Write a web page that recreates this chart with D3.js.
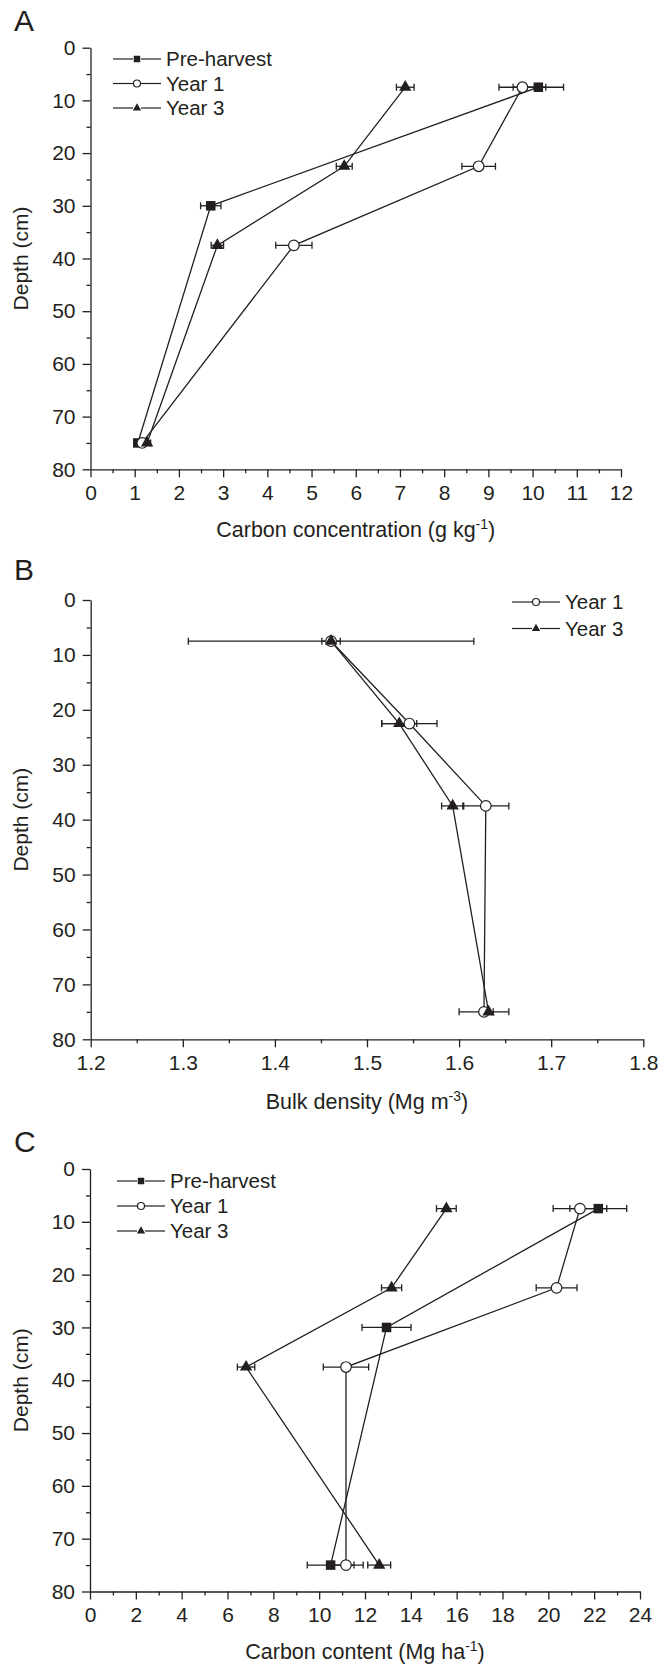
<!DOCTYPE html>
<html>
<head>
<meta charset="utf-8">
<script src="https://cdn.jsdelivr.net/npm/d3@7"></script>
<style>
body { margin: 0; background: #fff; }
svg { display: block; font-family: "Liberation Sans", Arial, sans-serif; }
</style>
</head>
<body>
<div id="chart-area"></div>
<script>
// sampling depths (cm)
const preDepth = [7.5, 30, 75];
const yearDepth = [7.5, 22.5, 37.5, 75];
const depthTicks = [0, 10, 20, 30, 40, 50, 60, 70, 80];

// A - carbon concentration (g kg-1)
const concPre = [10.13, 2.72, 1.07];
const concPreErr = [0.57, 0.23, 0.08];
const concY1 = [9.77, 8.78, 4.6, 1.17];
const concY1Err = [0.53, 0.38, 0.41, 0.08];
const concY3 = [7.12, 5.74, 2.87, 1.28];
const concY3Err = [0.2, 0.18, 0.14, 0.08];
const concTicks = [0, 1, 2, 3, 4, 5, 6, 7, 8, 9, 10, 11, 12];

// B - bulk density (Mg m-3)
const bdY1 = [1.461, 1.546, 1.629, 1.627];
const bdY1Err = [0.155, 0.03, 0.025, 0.027];
const bdY3 = [1.461, 1.535, 1.593, 1.632];
const bdY3Err = [0.01, 0.019, 0.012, 0.005];
const bdTicks = [1.2, 1.3, 1.4, 1.5, 1.6, 1.7, 1.8];

// C - carbon content (Mg ha-1)
const contPre = [22.18, 12.94, 10.5];
const contPreErr = [1.24, 1.07, 1.02];
const contY1 = [21.38, 20.36, 11.17, 11.17];
const contY1Err = [1.17, 0.89, 0.99, 0.75];
const contY3 = [15.55, 13.16, 6.81, 12.62];
const contY3Err = [0.43, 0.44, 0.38, 0.5];
const contTicks = [0, 2, 4, 6, 8, 10, 12, 14, 16, 18, 20, 22, 24];

const ink = "#231f20";

const svg = d3.select("#chart-area")
    .append("svg")
    .attr("width", 660)
    .attr("height", 1669);

function series(name, depth, vals, errs, shape) {
    return { name, shape, pts: depth.map((d, i) => ({ depth: d, v: vals[i], e: errs[i] })) };
}

const symTri = d3.symbol().type(d3.symbolTriangle).size(66);
const symTriSmall = d3.symbol().type(d3.symbolTriangle).size(30);

function marker(g, shape, big) {
    if (shape === "square") {
        const s = big ? 9.5 : 6.5;
        g.append("rect").attr("x", -s / 2).attr("y", -s / 2).attr("width", s).attr("height", s).attr("fill", ink);
    } else if (shape === "circle") {
        g.append("circle").attr("r", big ? 5.3 : 3.5).attr("fill", "#fff").attr("stroke", ink).attr("stroke-width", 1.2);
    } else {
        g.append("path").attr("d", big ? symTri() : symTriSmall()).attr("fill", ink);
    }
}

function drawPanel(p) {
    const x = d3.scaleLinear().domain(p.domain).range([p.x0, p.x1]);
    const y = d3.scaleLinear().domain([0, 80]).range([p.yTop, p.yBot]);
    const g = svg.append("g");

    // axes (major + minor ticks)
    g.append("g")
        .attr("transform", `translate(${p.x0},0)`)
        .call(d3.axisLeft(y).tickValues(depthTicks).tickSize(8).tickSizeOuter(0).tickPadding(7));
    g.append("g")
        .attr("transform", `translate(${p.x0},0)`)
        .call(d3.axisLeft(y).tickValues(d3.range(5, 80, 10)).tickSize(4).tickSizeOuter(0).tickFormat(""))
        .select(".domain").remove();
    g.append("g")
        .attr("transform", `translate(0,${p.yBot})`)
        .call(d3.axisBottom(x).tickValues(p.ticks).tickSize(8).tickSizeOuter(0).tickPadding(8)
            .tickFormat(p.fmt));
    g.append("g")
        .attr("transform", `translate(0,${p.yBot})`)
        .call(d3.axisBottom(x).tickValues(p.minor).tickSize(4).tickSizeOuter(0).tickFormat(""))
        .select(".domain").remove();

    g.selectAll(".domain, .tick line").attr("stroke", ink).attr("stroke-width", 1.3);
    g.selectAll(".tick text").attr("font-size", 21).attr("fill", ink)
        .attr("font-family", "Liberation Sans, Arial, sans-serif");

    // panel letter
    g.append("text").attr("x", 14).attr("y", p.letterY)
        .attr("font-size", 30).attr("fill", ink).text(p.letter);

    // y title
    g.append("text")
        .attr("transform", `translate(28,${(p.yTop + p.yBot) / 2}) rotate(-90)`)
        .attr("text-anchor", "middle").attr("font-size", 21).attr("fill", ink)
        .text("Depth (cm)");

    // x title with superscript
    const t = g.append("text")
        .attr("x", (p.x0 + p.x1) / 2).attr("y", p.titleY)
        .attr("text-anchor", "middle").attr("font-size", 21.5).attr("fill", ink);
    t.append("tspan").text(p.title);
    t.append("tspan").attr("dy", -8).attr("font-size", 14).text(p.sup);
    t.append("tspan").attr("dy", 8).text(")");

    const line = d3.line().x(d => x(d.v)).y(d => y(d.depth));
    p.series.forEach(s => {
        g.append("path").datum(s.pts).attr("d", line)
            .attr("fill", "none").attr("stroke", ink).attr("stroke-width", 1.3);
    });

    // error bars
    p.series.forEach(s => {
        const eb = g.selectAll(null).data(s.pts).enter().append("g")
            .attr("stroke", ink).attr("stroke-width", 1.3);
        eb.append("line").attr("x1", d => x(d.v - d.e)).attr("x2", d => x(d.v + d.e))
            .attr("y1", d => y(d.depth)).attr("y2", d => y(d.depth));
        eb.append("line").attr("x1", d => x(d.v - d.e)).attr("x2", d => x(d.v - d.e))
            .attr("y1", d => y(d.depth) - 3.5).attr("y2", d => y(d.depth) + 3.5);
        eb.append("line").attr("x1", d => x(d.v + d.e)).attr("x2", d => x(d.v + d.e))
            .attr("y1", d => y(d.depth) - 3.5).attr("y2", d => y(d.depth) + 3.5);
    });

    p.series.forEach(s => {
        s.pts.forEach(d => {
            const m = g.append("g").attr("transform", `translate(${x(d.v)},${y(d.depth)})`);
            marker(m, s.shape, true);
        });
    });

    // legend
    p.series.forEach((s, i) => {
        const ly = p.legY + i * p.legStep;
        const lg = g.append("g").attr("transform", `translate(${p.legX},${ly})`);
        lg.append("line").attr("x1", 0).attr("x2", 20).attr("stroke", ink).attr("stroke-width", 1.2);
        lg.append("line").attr("x1", 28).attr("x2", 48).attr("stroke", ink).attr("stroke-width", 1.2);
        const m = lg.append("g").attr("transform", "translate(24,0)");
        marker(m, s.shape, false);
        lg.append("text").attr("x", 53).attr("dy", "0.36em")
            .attr("font-size", 20.5).attr("fill", ink).text(s.name);
    });
}

drawPanel({
    letter: "A", letterY: 31,
    domain: [0, 12], x0: 90.5, x1: 621, yTop: 47.7, yBot: 469.3,
    ticks: concTicks, minor: d3.range(0.5, 12, 1), fmt: d3.format("d"),
    title: "Carbon concentration (g kg", sup: "-1", titleY: 537,
    legX: 113, legY: 59, legStep: 24.5,
    series: [
        series("Pre-harvest", preDepth, concPre, concPreErr, "square"),
        series("Year 1", yearDepth, concY1, concY1Err, "circle"),
        series("Year 3", yearDepth, concY3, concY3Err, "triangle")
    ]
});

drawPanel({
    letter: "B", letterY: 580,
    domain: [1.2, 1.8], x0: 90.7, x1: 643.3, yTop: 600, yBot: 1039.3,
    ticks: bdTicks, minor: d3.range(1.25, 1.8, 0.1), fmt: d3.format(".1f"),
    title: "Bulk density (Mg m", sup: "-3", titleY: 1109,
    legX: 512, legY: 602, legStep: 26.5,
    series: [
        series("Year 1", yearDepth, bdY1, bdY1Err, "circle"),
        series("Year 3", yearDepth, bdY3, bdY3Err, "triangle")
    ]
});

drawPanel({
    letter: "C", letterY: 1152,
    domain: [0, 24], x0: 90, x1: 640, yTop: 1169, yBot: 1591.5,
    ticks: contTicks, minor: d3.range(1, 24, 2), fmt: d3.format("d"),
    title: "Carbon content (Mg ha", sup: "-1", titleY: 1659,
    legX: 117, legY: 1181, legStep: 25,
    series: [
        series("Pre-harvest", preDepth, contPre, contPreErr, "square"),
        series("Year 1", yearDepth, contY1, contY1Err, "circle"),
        series("Year 3", yearDepth, contY3, contY3Err, "triangle")
    ]
});
</script>
</body>
</html>
